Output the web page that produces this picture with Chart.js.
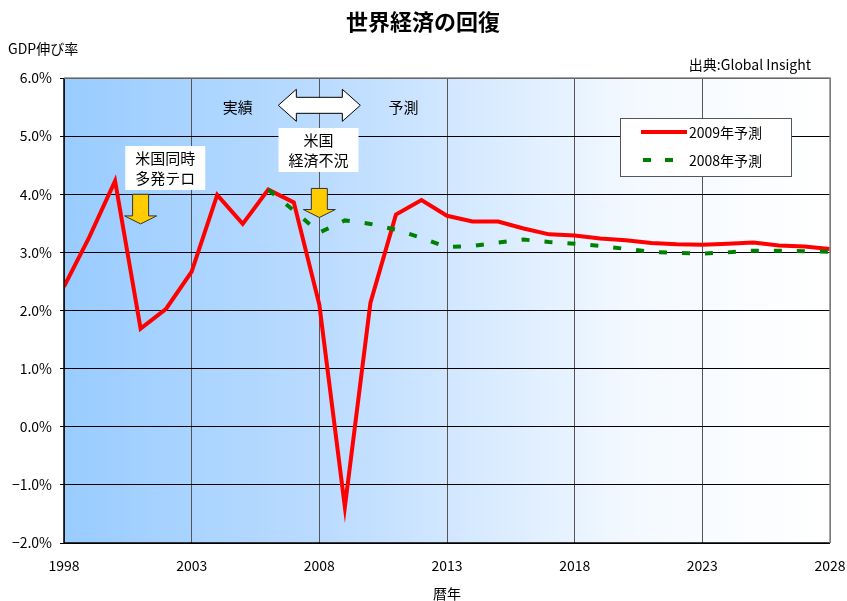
<!DOCTYPE html>
<html>
<head>
<meta charset="utf-8">
<script src="https://cdn.jsdelivr.net/npm/chart.js@4.4.1/dist/chart.umd.min.js"></script>
<style>
  html, body { margin: 0; padding: 0; background: #fff; }
  #wrap { width: 847px; height: 601px; }
</style>
</head>
<body>
<div id="wrap"><canvas id="c" width="847" height="601"></canvas></div>
<script>
// data
const years = [1998, 1999, 2000, 2001, 2002, 2003, 2004, 2005, 2006, 2007,
  2008, 2009, 2010, 2011, 2012, 2013, 2014, 2015, 2016, 2017,
  2018, 2019, 2020, 2021, 2022, 2023, 2024, 2025, 2026, 2027, 2028];
const forecast2009 = [2.41, 3.27, 4.23, 1.69, 2.03, 2.67, 3.99, 3.49, 4.08, 3.86,
  2.10, -1.38, 2.13, 3.65, 3.90, 3.63, 3.53, 3.53, 3.41, 3.31,
  3.29, 3.24, 3.21, 3.16, 3.14, 3.13, 3.15, 3.17, 3.12, 3.10, 3.06];
const forecast2008 = [null, null, null, null, null, null, null, null, 4.08, 3.72,
  3.34, 3.55, 3.49, 3.39, 3.25, 3.09, 3.11, 3.17, 3.22, 3.18,
  3.15, 3.11, 3.06, 3.01, 2.99, 2.98, 3.00, 3.03, 3.03, 3.02, 3.01];
const yTicks = [-2, -1, 0, 1, 2, 3, 4, 5, 6];
const xTicks = [1998, 2003, 2008, 2013, 2018, 2023, 2028];
const seriesNames = ["2009年予測", "2008年予測"];

const jp = '"Noto Sans CJK JP", sans-serif';
const narrow = '"Liberation Sans Narrow", "Noto Sans CJK JP", sans-serif';

function pts(vals) {
  return years.map((y, i) => ({ x: y, y: vals[i] })).filter(p => p.y !== null);
}

// background gradient, text and callouts
const decor = {
  id: "decor",
  beforeDraw(chart) {
    const { ctx, chartArea: a } = chart;
    const g = ctx.createLinearGradient(a.left, 0, a.right, 0);
    g.addColorStop(0, "#99ccff");
    g.addColorStop(0.35, "#bcdcff");
    g.addColorStop(0.75, "#f4f9ff");
    g.addColorStop(1, "#ffffff");
    ctx.save();
    ctx.fillStyle = g;
    ctx.fillRect(a.left, a.top, a.right - a.left, a.bottom - a.top);
    ctx.restore();
  },
  afterDatasetsDraw(chart) {
    const { ctx, chartArea: a, scales } = chart;
    const X = v => scales.x.getPixelForValue(v);
    const Y = v => scales.y.getPixelForValue(v);
    ctx.save();

    // frame
    ctx.lineWidth = 1.5;
    ctx.strokeStyle = "#000";
    ctx.beginPath();
    ctx.moveTo(a.left, a.top); ctx.lineTo(a.left, a.bottom); ctx.lineTo(a.right, a.bottom);
    ctx.stroke();
    ctx.strokeStyle = "#888";
    ctx.beginPath();
    ctx.moveTo(a.left, a.top); ctx.lineTo(a.right, a.top); ctx.lineTo(a.right, a.bottom);
    ctx.stroke();

    // title + labels
    ctx.fillStyle = "#000";
    ctx.textBaseline = "middle";
    ctx.textAlign = "center";
    ctx.font = "bold 22px " + jp;
    ctx.fillText("世界経済の回復", 423, 22);
    ctx.font = "14px " + jp;
    ctx.textAlign = "left";
    ctx.fillText("GDP伸び率", 8, 49);
    ctx.textAlign = "right";
    ctx.fillText("出典:Global Insight", 811, 65);
    ctx.textAlign = "center";
    ctx.fillText("暦年", 447, 594);

    // 実績 / 予測
    ctx.font = "15px " + jp;
    ctx.fillText("実績", X(2004.8), Y(5.5));
    ctx.fillText("予測", X(2011.3), Y(5.5));

    // white double arrow
    const cx = X(2008), cy = Y(5.53);
    const hw = 41, hh = 16, sh = 8, head = 18;
    ctx.beginPath();
    ctx.moveTo(cx - hw, cy);
    ctx.lineTo(cx - hw + head, cy - hh);
    ctx.lineTo(cx - hw + head, cy - sh);
    ctx.lineTo(cx + hw - head, cy - sh);
    ctx.lineTo(cx + hw - head, cy - hh);
    ctx.lineTo(cx + hw, cy);
    ctx.lineTo(cx + hw - head, cy + hh);
    ctx.lineTo(cx + hw - head, cy + sh);
    ctx.lineTo(cx - hw + head, cy + sh);
    ctx.lineTo(cx - hw + head, cy + hh);
    ctx.closePath();
    ctx.fillStyle = "#fff";
    ctx.fill();
    ctx.strokeStyle = "#000";
    ctx.lineWidth = 1;
    ctx.stroke();

    // callout boxes
    function box(x0, y0, w, h, lines) {
      ctx.fillStyle = "#fff";
      ctx.fillRect(x0, y0, w, h);
      ctx.fillStyle = "#000";
      ctx.font = "15px " + jp;
      ctx.textAlign = "center";
      lines.forEach((t, i) => ctx.fillText(t, x0 + w / 2, y0 + 12 + i * 20));
    }
    box(X(2000.4), Y(4.83), 80, 44, ["米国同時", "多発テロ"]);
    box(X(2006.4), Y(5.14), 80, 44, ["米国", "経済不況"]);

    // yellow arrows
    function down(xc, top, bot) {
      const sw = 8, hw2 = 16, hh2 = 8;
      ctx.beginPath();
      ctx.moveTo(xc - sw, top);
      ctx.lineTo(xc + sw, top);
      ctx.lineTo(xc + sw, bot - hh2);
      ctx.lineTo(xc + hw2, bot - hh2);
      ctx.lineTo(xc, bot);
      ctx.lineTo(xc - hw2, bot - hh2);
      ctx.lineTo(xc - sw, bot - hh2);
      ctx.closePath();
      ctx.fillStyle = "#ffcc00";
      ctx.fill();
      ctx.strokeStyle = "#333";
      ctx.lineWidth = 1;
      ctx.stroke();
    }
    down(X(2001.0), Y(4.0), Y(3.49));
    down(X(2008.0), Y(4.1), Y(3.6));

    // legend
    const lx = 620, ly = 118;
    ctx.fillStyle = "#fff";
    ctx.fillRect(lx, ly, 171, 58);
    ctx.strokeStyle = "#555";
    ctx.lineWidth = 1;
    ctx.strokeRect(lx + 0.5, ly + 0.5, 171, 58);
    ctx.lineWidth = 4;
    ctx.strokeStyle = "#ff0000";
    ctx.beginPath(); ctx.moveTo(lx + 21, ly + 14); ctx.lineTo(lx + 67, ly + 14); ctx.stroke();
    ctx.strokeStyle = "#008000";
    ctx.setLineDash([8, 14]);
    ctx.beginPath(); ctx.moveTo(lx + 23, ly + 42); ctx.lineTo(lx + 67, ly + 42); ctx.stroke();
    ctx.setLineDash([]);
    ctx.fillStyle = "#000";
    ctx.font = "14px " + jp;
    ctx.textAlign = "left";
    ctx.fillText(seriesNames[0], lx + 69, ly + 15);
    ctx.fillText(seriesNames[1], lx + 69, ly + 43);
    ctx.restore();
  }
};

new Chart(document.getElementById("c"), {
  type: "line",
  data: {
    datasets: [
      {
        label: seriesNames[1],
        data: pts(forecast2008),
        borderColor: "#008000",
        borderWidth: 4,
        borderDash: [8, 15],
        pointRadius: 0,
        tension: 0
      },
      {
        label: seriesNames[0],
        data: pts(forecast2009),
        borderColor: "#ff0000",
        borderWidth: 4,
        pointRadius: 0,
        tension: 0
      }
    ]
  },
  options: {
    responsive: false,
    animation: false,
    layout: { padding: { left: 0, right: 17, top: 78, bottom: 0 } },
    plugins: { legend: { display: false }, tooltip: { enabled: false } },
    scales: {
      x: {
        type: "linear",
        min: 1998,
        max: 2028,
        afterBuildTicks: s => { s.ticks = xTicks.map(v => ({ value: v })); },
        afterFit: s => { s.height = 58; s.paddingLeft = 0; s.paddingRight = 0; },
        grid: { color: "#555", lineWidth: 1, drawTicks: false },
        border: { display: false },
        ticks: {
          padding: 14,
          color: "#000",
          font: { family: narrow, size: 14 },
          callback: v => String(v)
        }
      },
      y: {
        min: -2,
        max: 6,
        afterBuildTicks: s => { s.ticks = yTicks.map(v => ({ value: v })); },
        afterFit: s => { s.width = 64; s.paddingTop = 0; s.paddingBottom = 0; },
        grid: { color: "#000", lineWidth: 1, drawTicks: true, tickLength: 4 },
        border: { display: false },
        ticks: {
          padding: 8,
          color: "#000",
          font: { family: narrow, size: 14 },
          callback: v => (v < 0 ? "\u2212" + Math.abs(v).toFixed(1) : v.toFixed(1)) + "%"
        }
      }
    }
  },
  plugins: [decor]
});
</script>
</body>
</html>
